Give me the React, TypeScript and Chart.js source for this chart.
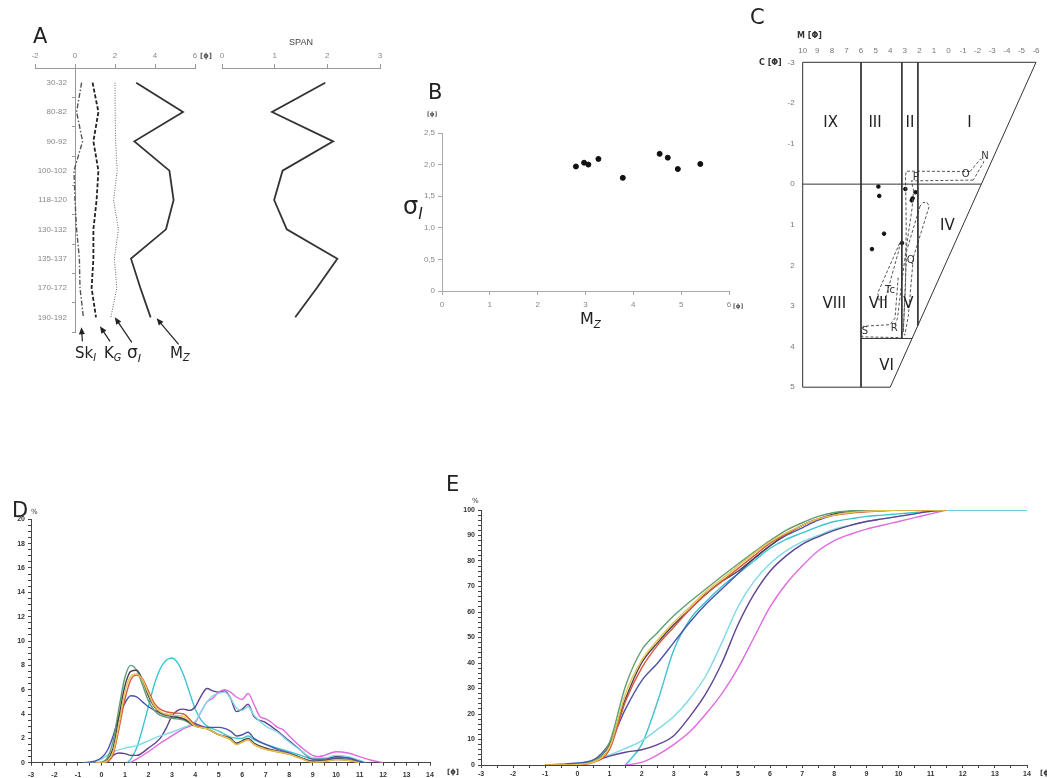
import React, { useEffect, useRef } from 'react';
import { Chart, registerables } from 'chart.js';

Chart.register(...registerables);
Chart.defaults.font.family = '"Liberation Sans", Arial, sans-serif';

// ---------------- Panel A / B : grain-size parameters per depth ----------------
const depthLabels = ['30-32', '80-82', '90-92', '100-102', '118-120', '130-132', '135-137', '170-172', '190-192'];
const skewI = [0.33, 0.08, 0.38, -0.05, 0.0, 0.08, 0.22, 0.25, 0.42];
const kurtG = [0.88, 1.17, 0.92, 1.17, 1.08, 0.92, 0.92, 0.83, 1.05];
const sortI = [2.0, 2.01, 2.03, 2.11, 1.93, 2.17, 1.97, 2.09, 1.79];
const meanZ = [3.06, 5.4, 2.97, 4.72, 4.93, 4.55, 2.8, 3.27, 3.78];
const spanVals = [1.96, 0.95, 2.11, 1.15, 0.99, 1.23, 2.19, 1.8, 1.39];

// ---------------- Panel C : CM (Passega) diagram ----------------
const cmMedian = [4.81, 4.75, 4.42, 5.25, 2.96, 2.26, 2.46, 3.19, 2.52];
const cmCoarse = [0.06, 0.29, 1.22, 1.6, 0.12, 0.2, 0.35, 1.45, 0.4];
const cmFrame: number[][] = [[10, -3], [-6, -3], [4, 5], [10, 5], [10, -3]];
const cmDividers: number[][][] = [
  [[6, -3], [6, 5]],
  [[3.2, -3], [3.2, 3.8]],
  [[2.1, -3], [2.1, 3.48]],
  [[10, 0], [-2.25, 0]],
  [[6, 3.8], [2.5, 3.8]],
];
const cmEnvelopes: number[][][] = [
  [[-1.47, -0.31], [2.9, -0.32], [2.95, -0.2], [2.9, 1.0], [2.95, 2.5], [3.1, 3.6], [3.25, 3.72]],
  [[-1.7, -0.1], [2.55, -0.08], [2.4, 0.15], [2.5, 0.6], [2.85, 1.45], [3.2, 2.4], [3.5, 3.3], [3.7, 3.5]],
  [[-1.47, -0.31], [-2.2, -0.62], [-2.43, -0.55], [-1.7, -0.1]],
  [[1.95, 0.54], [2.87, 1.64], [3.1, 3.66], [3.0, 3.72], [2.76, 3.26], [2.41, 1.8], [1.32, 0.54], [1.5, 0.44], [1.77, 0.46], [1.95, 0.54]],
  [[3.35, 1.45], [4.85, 2.68], [4.78, 2.85], [4.35, 2.85], [3.4, 1.62], [3.35, 1.45]],
  [[3.45, 2.3], [3.67, 3.3], [4.01, 3.46], [5.84, 3.5], [5.97, 3.62], [5.93, 3.76], [3.2, 3.78]],
];
const cmZoneNames = ['IX', 'III', 'II', 'I', 'IV', 'VIII', 'VII', 'V', 'VI'];
const cmZoneM = [8.08, 5.04, 2.64, -1.43, 0.08, 7.83, 4.81, 2.76, 4.24];
const cmZoneC = [-1.5, -1.5, -1.5, -1.5, 1.03, 2.95, 2.95, 2.95, 4.47];
const cmSegNames = ['N', 'O', 'P', 'Q', 'R', 'S', 'Tc'];
const cmSegM = [-2.5, -1.18, 2.25, 2.59, 3.72, 5.73, 4.01];
const cmSegC = [-0.69, -0.24, -0.17, 1.88, 3.56, 3.62, 2.62];

// ---------------- Panel D : frequency curves (% vs phi) ----------------
const dPhiA = [-0.25, 0, 0.25, 0.5, 0.75, 1, 1.25, 1.5, 1.75, 2, 2.25, 2.5, 3, 3.5, 4, 4.5, 5, 5.5, 5.75, 6, 6.25, 6.5, 7, 7.5, 8, 8.5, 9, 9.5, 10, 10.5, 11];
const dGreen = [0, 0.05, 0.4, 1.8, 4.5, 7.0, 8.0, 7.6, 6.4, 5.1, 4.3, 3.9, 3.65, 3.5, 3.0, 2.8, 2.3, 2.0, 1.6, 1.8, 2.0, 1.6, 1.2, 0.95, 0.75, 0.4, 0.1, 0.15, 0.3, 0.25, 0];
const dDark = [0, 0, 0.2, 1.2, 3.8, 6.3, 7.5, 7.6, 6.8, 5.5, 4.6, 4.1, 3.8, 3.6, 3.0, 2.8, 2.3, 2.0, 1.6, 1.8, 2.0, 1.6, 1.2, 0.95, 0.75, 0.4, 0.1, 0.15, 0.3, 0.25, 0];
const dRed = [0, 0, 0.1, 0.7, 2.8, 5.2, 6.8, 7.2, 6.9, 5.9, 4.9, 4.4, 4.1, 4.0, 3.1, 2.8, 2.3, 1.9, 1.5, 1.7, 1.9, 1.5, 1.1, 0.9, 0.7, 0.35, 0.05, 0.1, 0.25, 0.2, 0];
const dYellow = [0, 0, 0.15, 0.9, 3.2, 5.8, 7.1, 7.3, 6.8, 5.7, 4.7, 4.2, 3.9, 3.8, 3.0, 2.8, 2.3, 1.9, 1.5, 1.7, 1.9, 1.5, 1.1, 0.9, 0.7, 0.35, 0.05, 0.1, 0.25, 0.2, 0];
const dPhiBlue = [-0.75, -0.5, -0.25, 0, 0.25, 0.5, 0.75, 1, 1.25, 1.5, 1.75, 2, 2.5, 3, 3.5, 4, 4.5, 5, 5.5, 5.75, 6, 6.25, 6.5, 7, 7.5, 8, 8.5, 9, 9.5, 10, 10.5, 11, 11.25];
const dBlue = [0, 0.05, 0.15, 0.4, 1.0, 2.2, 3.8, 4.9, 5.5, 5.4, 5.0, 4.6, 4.1, 3.9, 3.6, 3.2, 2.9, 2.9, 2.6, 2.2, 2.3, 2.5, 2.0, 1.5, 1.1, 0.8, 0.4, 0.15, 0.2, 0.4, 0.4, 0.1, 0];
const dPhiCyan = [1.1, 1.25, 1.5, 1.75, 2, 2.25, 2.5, 2.75, 3, 3.25, 3.5, 3.75, 4, 4.25, 4.5, 5, 5.5, 6, 6.25, 6.5, 7, 7.5, 8, 8.5, 9, 9.5, 10, 10.5, 11, 11.25];
const dCyan = [0, 0.3, 1.2, 2.8, 4.6, 6.4, 7.7, 8.4, 8.6, 8.2, 7.2, 5.8, 4.4, 3.5, 3.0, 2.6, 2.1, 2.0, 2.2, 1.9, 1.5, 1.2, 0.9, 0.6, 0.3, 0.35, 0.5, 0.4, 0.1, 0];
const dPhiLight = [-0.75, -0.25, 0, 0.25, 0.5, 1, 1.5, 2, 2.5, 3, 3.5, 4, 4.25, 4.5, 4.75, 5, 5.25, 5.5, 5.75, 6, 6.25, 6.5, 7, 7.5, 8, 8.5, 9, 9.5, 10, 10.5, 11, 11.25];
const dLight = [0, 0.1, 0.3, 0.6, 0.9, 1.2, 1.4, 1.8, 2.2, 2.5, 2.9, 3.4, 4.2, 5.0, 5.5, 5.7, 5.8, 5.3, 4.5, 4.3, 4.6, 3.9, 3.0, 2.5, 1.7, 1.0, 0.4, 0.4, 0.6, 0.5, 0.2, 0];
const dPhiPurple = [0.25, 0.5, 0.75, 1, 1.25, 1.5, 2, 2.5, 2.75, 3, 3.25, 3.5, 3.75, 4, 4.25, 4.5, 4.75, 5, 5.25, 5.5, 5.75, 6, 6.25, 6.5, 7, 7.5, 8, 8.5, 9, 9.5, 10, 10.5, 11, 11.3];
const dPurple = [0, 0.6, 0.8, 0.75, 0.6, 0.6, 1.2, 2.0, 2.8, 3.8, 4.3, 4.4, 4.3, 4.6, 5.5, 6.1, 5.9, 5.8, 5.9, 5.3, 4.2, 4.4, 4.8, 3.8, 3.3, 2.6, 1.8, 1.0, 0.3, 0.3, 0.5, 0.4, 0.1, 0];
const dPhiMagenta = [1.2, 1.5, 2, 2.5, 3, 3.5, 4, 4.25, 4.5, 4.75, 5, 5.25, 5.5, 5.75, 6, 6.25, 6.5, 6.75, 7, 7.25, 7.5, 7.75, 8, 8.5, 9, 9.25, 9.5, 10, 10.5, 11, 11.5, 12];
const dMagenta = [0, 0.3, 0.9, 1.6, 2.2, 2.8, 3.3, 4.2, 5.0, 5.3, 5.8, 6.0, 5.8, 5.4, 5.2, 5.7, 4.8, 3.8, 3.6, 3.3, 2.9, 2.7, 2.2, 1.3, 0.6, 0.5, 0.6, 0.9, 0.8, 0.5, 0.2, 0];

// ---------------- Panel E : cumulative curves (% vs phi) ----------------
const ePhi = [-1, -0.5, 0, 0.5, 1, 1.5, 2, 2.5, 3, 3.5, 4, 4.5, 5, 5.5, 6, 6.5, 7, 7.5, 8, 8.5, 9, 9.5, 10, 10.5, 11, 11.5];
const eGreen = [0, 0, 0.3, 1.5, 8.8, 31, 45, 52, 58.5, 64, 69, 74, 78.8, 83.5, 88, 92, 95, 97.5, 99, 99.6, 100, 100, 100, 100, 100, 100];
const eYellow = [0, 0, 0.2, 1.2, 7, 28, 41, 49, 56, 62, 68, 73, 78, 83, 87.5, 91, 94, 96.5, 98, 99, 99.5, 99.8, 100, 100, 100, 100];
const eOrange = [0, 0, 0.1, 1, 6, 25, 38, 47, 54, 61, 67, 72, 77, 82, 87, 90.5, 94, 96.5, 98, 98.8, 99.3, 99.7, 100, 100, 100, 100];
const eDark = [0, 0, 0.3, 1.5, 8, 26, 40, 48, 55, 61, 67, 72, 76, 81, 86, 90.5, 94, 96.5, 98.5, 99.5, 100, 100, 100, 100, 100, 100];
const eBlue = [0, 0.3, 0.8, 2, 8.5, 22, 33, 40, 48, 56, 63, 69, 75, 81, 86, 90, 93, 96, 98, 99, 99.5, 99.8, 99.9, 100, 100, 100];
const eLight = [0, 0, 0.5, 2, 4, 6.5, 9.5, 14, 19, 26, 35, 48, 62, 72, 79, 84, 87.5, 90, 92.5, 94, 95.5, 96.5, 97.5, 98.5, 99.5, 100];
const ePurple = [0, 0, 0.5, 1.5, 3.5, 5, 6, 8, 11.5, 19, 28, 40, 55, 67, 76, 82, 86.5, 89.5, 92, 94, 95.5, 96.5, 97.5, 98.5, 99.5, 100];
const ePhiMagenta = [1.5, 2, 2.5, 3, 3.5, 4, 4.5, 5, 5.5, 6, 6.5, 7, 7.5, 8, 8.5, 9, 9.5, 10, 10.5, 11, 11.5];
const eMagenta = [0, 1, 4, 8, 13, 20, 28, 38, 50, 62, 71, 78, 84, 88, 90.5, 92.5, 94, 95.5, 97, 98.5, 100];
const ePhiCyan = [1.5, 2, 2.5, 3, 3.5, 4, 4.5, 5, 5.5, 6, 6.5, 7, 7.5, 8, 8.5, 9, 9.5, 10, 10.5, 11, 11.5, 12, 13, 14];
const eCyan = [0, 8, 25, 45, 57, 64, 70, 75, 80, 85, 88.5, 91, 93.5, 95.5, 96.5, 97.5, 98, 98.5, 99, 99.5, 100, 100, 100, 100];

const C_GREEN = '#5f9e72';
const C_YELLOW = '#e3c64c';
const C_ORANGE = '#d9573f';
const C_DARK = '#4a3f52';
const C_BLUE = '#4b52ae';
const C_CYAN = '#3cc4cf';
const C_LIGHT = '#80dbe4';
const C_PURPLE = '#5c4394';
const C_MAGENTA = '#e26ae0';

// ---------------- helpers ----------------
const fixW = (w: number) => (s: any) => { s.width = w; };
const fixH = (h: number) => (s: any) => { s.height = h; };
const pts = (xs: number[], ys: number[]) => xs.map((x, i) => ({ x, y: ys[i] }));
const pairs = (arr: number[][]) => arr.map(([x, y]) => ({ x, y }));

const labelArrows = [
  { series: 0, tip: [-2, 10], tail: [-1, 24] },
  { series: 1, tip: [4, 9], tail: [14, 24] },
  { series: 2, tip: [4, 0], tail: [21, 25] },
  { series: 3, tip: [6, 1], tail: [28, 27] },
];
const profileSeries = [skewI, kurtG, sortI, meanZ];

const arrowPlugin = {
  id: 'labelArrows',
  afterDatasetsDraw(chart: any) {
    const { ctx } = chart;
    const xs = chart.scales.x;
    const ys = chart.scales.y;
    const last = depthLabels.length - 1;
    ctx.save();
    ctx.strokeStyle = '#222';
    ctx.fillStyle = '#222';
    ctx.lineWidth = 1.2;
    labelArrows.forEach((a) => {
      const bx = xs.getPixelForValue(profileSeries[a.series][last]);
      const by = ys.getPixelForValue(last);
      const tx = bx + a.tip[0], ty = by + a.tip[1];
      const sx = bx + a.tail[0], sy = by + a.tail[1];
      const ang = Math.atan2(ty - sy, tx - sx);
      ctx.beginPath();
      ctx.moveTo(sx, sy);
      ctx.lineTo(tx - 4 * Math.cos(ang), ty - 4 * Math.sin(ang));
      ctx.stroke();
      ctx.beginPath();
      ctx.moveTo(tx, ty);
      ctx.lineTo(tx - 7 * Math.cos(ang) + 3 * Math.sin(ang), ty - 7 * Math.sin(ang) - 3 * Math.cos(ang));
      ctx.lineTo(tx - 7 * Math.cos(ang) - 3 * Math.sin(ang), ty - 7 * Math.sin(ang) + 3 * Math.cos(ang));
      ctx.closePath();
      ctx.fill();
    });
    ctx.restore();
  },
};

const cmTextPlugin = {
  id: 'cmText',
  afterDatasetsDraw(chart: any) {
    const { ctx } = chart;
    const xs = chart.scales.x;
    const ys = chart.scales.y;
    ctx.save();
    ctx.fillStyle = '#222';
    ctx.textAlign = 'center';
    ctx.textBaseline = 'middle';
    ctx.font = '15px "DejaVu Sans", sans-serif';
    cmZoneNames.forEach((n, i) => ctx.fillText(n, xs.getPixelForValue(cmZoneM[i]), ys.getPixelForValue(cmZoneC[i])));
    ctx.font = '10px "DejaVu Sans", sans-serif';
    ctx.fillStyle = '#333';
    cmSegNames.forEach((n, i) => ctx.fillText(n, xs.getPixelForValue(cmSegM[i]), ys.getPixelForValue(cmSegC[i])));
    ctx.restore();
  },
};

const noPlugins = { legend: { display: false }, tooltip: { enabled: false } };

function ChartBox({ left, top, width, height, make }: { left: number; top: number; width: number; height: number; make: () => any }) {
  const ref = useRef<HTMLCanvasElement | null>(null);
  useEffect(() => {
    const chart = new Chart(ref.current as HTMLCanvasElement, make());
    return () => chart.destroy();
  }, []);
  return <canvas ref={ref} width={width} height={height} style={{ position: 'absolute', left, top, width, height }} />;
}

function Label({ x, y, size, bold, color, family, children }: any) {
  return (
    <div
      style={{
        position: 'absolute', left: x, top: y, fontSize: size, lineHeight: 1,
        fontFamily: family || '"DejaVu Sans", sans-serif', fontWeight: bold ? 'bold' : 'normal',
        color: color || '#222', whiteSpace: 'nowrap',
      }}
    >
      {children}
    </div>
  );
}

const Sub = ({ children }: any) => (
  <span style={{ fontSize: '0.65em', fontStyle: 'italic', position: 'relative', top: '0.35em' }}>{children}</span>
);

// ---------------- chart configs ----------------
const grayTicks = { color: '#888', font: { size: 8 } };

const makeProfile = () => ({
  type: 'line',
  data: {
    labels: depthLabels,
    datasets: [
      { label: 'SkI', data: skewI, borderColor: '#555', borderWidth: 1.4, borderDash: [5, 2, 1.5, 2], pointRadius: 0 },
      { label: 'KG', data: kurtG, borderColor: '#222', borderWidth: 1.8, borderDash: [4, 2], pointRadius: 0 },
      { label: 'σI', data: sortI, borderColor: '#666', borderWidth: 1, borderDash: [1, 1.5], pointRadius: 0 },
      { label: 'MZ', data: meanZ, borderColor: '#333', borderWidth: 1.8, pointRadius: 0 },
    ],
  },
  options: {
    indexAxis: 'y', responsive: false, animation: false,
    layout: { padding: { left: 35, right: 20, top: 30, bottom: 20 } },
    plugins: noPlugins,
    scales: {
      x: {
        type: 'linear', position: 'top', min: -2, max: 6, afterFit: fixH(38),
        ticks: { ...grayTicks, stepSize: 2, padding: 3 },
        grid: { drawOnChartArea: false, tickLength: 4, color: '#999' },
        border: { color: '#999' },
      },
      y: {
        type: 'category', position: { x: 0 }, offset: true,
        ticks: { ...grayTicks, autoSkip: false, callback: (_v: any, i: number) => depthLabels[i] + '\u2003' },
        grid: { drawOnChartArea: false, offset: true, tickLength: 3, color: '#999' },
        border: { color: '#999' },
      },
    },
  },
  plugins: [arrowPlugin],
});

const makeSpan = () => ({
  type: 'line',
  data: {
    labels: depthLabels,
    datasets: [{ label: 'SPAN', data: spanVals, borderColor: '#333', borderWidth: 1.8, pointRadius: 0 }],
  },
  options: {
    indexAxis: 'y', responsive: false, animation: false,
    layout: { padding: { left: 22, right: 20, top: 37, bottom: 20 } },
    plugins: noPlugins,
    scales: {
      x: {
        type: 'linear', position: 'top', min: 0, max: 3, afterFit: fixH(31),
        title: { display: true, text: 'SPAN', color: '#444', font: { size: 9 }, padding: 0 },
        ticks: { ...grayTicks, stepSize: 1, padding: 3 },
        grid: { drawOnChartArea: false, tickLength: 4, color: '#999' },
        border: { color: '#999' },
      },
      y: { type: 'category', display: false, offset: true },
    },
  },
});

const makeScatterB = () => ({
  type: 'scatter',
  data: {
    datasets: [{ data: pts(meanZ, sortI), backgroundColor: '#111', borderColor: '#111', pointRadius: 2.5 }],
  },
  options: {
    responsive: false, animation: false,
    layout: { padding: { left: 40, right: 21, top: 53, bottom: 14 } },
    plugins: noPlugins,
    scales: {
      x: {
        type: 'linear', min: 0, max: 6, afterFit: fixH(20),
        ticks: { ...grayTicks, stepSize: 1, padding: 5 },
        grid: { drawOnChartArea: false, tickLength: 4, color: '#aaa' },
        border: { color: '#aaa' },
      },
      y: {
        type: 'linear', min: 0, max: 2.5, afterFit: fixW(22),
        ticks: { ...grayTicks, stepSize: 0.5, padding: 3, callback: (v: number) => (v === 0 ? '0' : v.toFixed(1).replace('.', ',')) },
        grid: { drawOnChartArea: false, tickLength: 4, color: '#aaa' },
        border: { color: '#aaa' },
      },
    },
  },
});

const makeCM = () => ({
  type: 'scatter',
  data: {
    datasets: [
      { data: pairs(cmFrame), showLine: true, borderColor: '#333', borderWidth: 1, pointRadius: 0, clip: 4 },
      ...cmDividers.map((d) => ({ data: pairs(d), showLine: true, borderColor: '#333', borderWidth: 1, pointRadius: 0, clip: 4 })),
      ...cmEnvelopes.map((d) => ({ data: pairs(d), showLine: true, borderColor: '#555', borderWidth: 1, borderDash: [3, 2], pointRadius: 0, clip: 4 })),
      { data: pts(cmMedian, cmCoarse), backgroundColor: '#111', borderColor: '#111', pointRadius: 1.8 },
    ],
  },
  options: {
    responsive: false, animation: false,
    layout: { padding: { left: 30, right: 11, top: 22, bottom: 8 } },
    plugins: noPlugins,
    scales: {
      x: {
        type: 'linear', position: 'top', reverse: true, min: -6, max: 10, afterFit: fixH(20.3),
        ticks: { ...grayTicks, color: '#777', stepSize: 1, padding: 7, autoSkip: false, maxRotation: 0 },
        grid: { display: false, drawTicks: false },
        border: { display: false },
      },
      y: {
        type: 'linear', reverse: true, min: -3, max: 5, afterFit: fixW(32.7),
        ticks: { ...grayTicks, color: '#777', stepSize: 1, padding: 8 },
        grid: { display: false, drawTicks: false },
        border: { display: false },
      },
    },
  },
  plugins: [cmTextPlugin],
});

const boldTicks = { color: '#333', font: { size: 7, weight: 'bold' } };

const curve = (xs: number[], ys: number[], color: string) => ({
  data: pts(xs, ys), borderColor: color, borderWidth: 1.4, pointRadius: 0,
  cubicInterpolationMode: 'monotone', fill: false,
});

const makeFreq = () => ({
  type: 'line',
  data: {
    datasets: [
      curve(dPhiA, dYellow, C_YELLOW),
      curve(dPhiA, dRed, C_ORANGE),
      curve(dPhiA, dDark, C_DARK),
      curve(dPhiA, dGreen, C_GREEN),
      curve(dPhiBlue, dBlue, C_BLUE),
      curve(dPhiLight, dLight, C_LIGHT),
      curve(dPhiMagenta, dMagenta, C_MAGENTA),
      curve(dPhiPurple, dPurple, C_PURPLE),
      curve(dPhiCyan, dCyan, C_CYAN),
    ],
  },
  options: {
    responsive: false, animation: false,
    layout: { padding: { left: 6, right: 30, top: 24.3, bottom: 0 } },
    plugins: noPlugins,
    scales: {
      x: {
        type: 'linear', min: -3, max: 14, afterFit: fixH(15.3),
        ticks: { ...boldTicks, stepSize: 0.5, autoSkip: false, maxRotation: 0, padding: 5,
          callback: (v: number) => (Number.isInteger(v) ? String(v) : '') },
        grid: { drawOnChartArea: false, tickLength: 3, color: '#444' },
        border: { color: '#444' },
      },
      y: {
        type: 'linear', min: 0, max: 20, afterFit: fixW(25),
        ticks: { ...boldTicks, stepSize: 0.5, autoSkip: false, padding: 3,
          callback: (v: number) => (Number.isInteger(v) && v % 2 === 0 ? String(v) : '') },
        grid: { drawOnChartArea: false, tickLength: 3, color: '#444' },
        border: { color: '#444' },
      },
    },
  },
});

const makeCum = () => ({
  type: 'line',
  data: {
    datasets: [
      curve(ePhi, eYellow, C_YELLOW),
      curve(ePhi, eOrange, C_ORANGE),
      curve(ePhi, eGreen, C_GREEN),
      curve(ePhi, eDark, C_DARK),
      curve(ePhi, eBlue, C_BLUE),
      curve(ePhi, ePurple, C_PURPLE),
      curve(ePhiMagenta, eMagenta, C_MAGENTA),
      curve(ePhi, eLight, C_LIGHT),
      curve(ePhiCyan, eCyan, C_CYAN),
    ],
  },
  options: {
    responsive: false, animation: false,
    layout: { padding: { left: 11, right: 20, top: 15, bottom: 0 } },
    plugins: noPlugins,
    scales: {
      x: {
        type: 'linear', min: -3, max: 14, afterFit: fixH(13),
        ticks: { ...boldTicks, stepSize: 0.5, autoSkip: false, maxRotation: 0, padding: 2,
          callback: (v: number) => (Number.isInteger(v) ? String(v) : '') },
        grid: { drawOnChartArea: false, tickLength: 3, color: '#444' },
        border: { color: '#444' },
      },
      y: {
        type: 'linear', min: 0, max: 100, afterFit: fixW(30),
        ticks: { ...boldTicks, stepSize: 2, autoSkip: false, padding: 3,
          callback: (v: number) => (v % 10 === 0 ? String(v) : '') },
        grid: { drawOnChartArea: false, tickLength: 3, color: '#444' },
        border: { color: '#444' },
      },
    },
  },
});

export default function App() {
  return (
    <div style={{ position: 'absolute', left: 0, top: 0, width: 1047, height: 778, background: '#fff', overflow: 'hidden' }}>
      <ChartBox left={0} top={0} width={215} height={352} make={makeProfile} />
      <ChartBox left={200} top={0} width={200} height={352} make={makeSpan} />
      <ChartBox left={380} top={80} width={370} height={245} make={makeScatterB} />
      <ChartBox left={740} top={20} width={307} height={380} make={makeCM} />
      <ChartBox left={0} top={495} width={460} height={283} make={makeFreq} />
      <ChartBox left={440} top={495} width={607} height={283} make={makeCum} />

      <Label x={33} y={26} size={21}>A</Label>
      <Label x={428} y={82} size={21}>B</Label>
      <Label x={750} y={7} size={21}>C</Label>
      <Label x={12} y={500} size={21}>D</Label>
      <Label x={446} y={474} size={21}>E</Label>

      <Label x={200} y={53} size={7} bold color="#555">[ɸ]</Label>
      <Label x={75} y={346} size={15}>Sk<Sub>I</Sub></Label>
      <Label x={104} y={346} size={15}>K<Sub>G</Sub></Label>
      <Label x={127} y={344} size={17}>σ<Sub>I</Sub></Label>
      <Label x={170} y={346} size={15}>M<Sub>Z</Sub></Label>

      <Label x={427} y={111} size={6} bold color="#555">[ɸ]</Label>
      <Label x={733} y={303} size={6} bold color="#555">[ɸ]</Label>
      <Label x={403} y={194} size={24}>σ<Sub>I</Sub></Label>
      <Label x={580} y={311} size={16}>M<Sub>Z</Sub></Label>

      <Label x={797} y={32} size={8} bold color="#333">M [Φ]</Label>
      <Label x={759} y={59} size={8} bold color="#333">C [Φ]</Label>

      <Label x={31} y={509} size={7} color="#333">%</Label>
      <Label x={447} y={769} size={7} bold color="#333">[ɸ]</Label>
      <Label x={472} y={498} size={7} color="#333">%</Label>
      <Label x={1040} y={770} size={7} bold color="#333">[ɸ]</Label>
    </div>
  );
}
